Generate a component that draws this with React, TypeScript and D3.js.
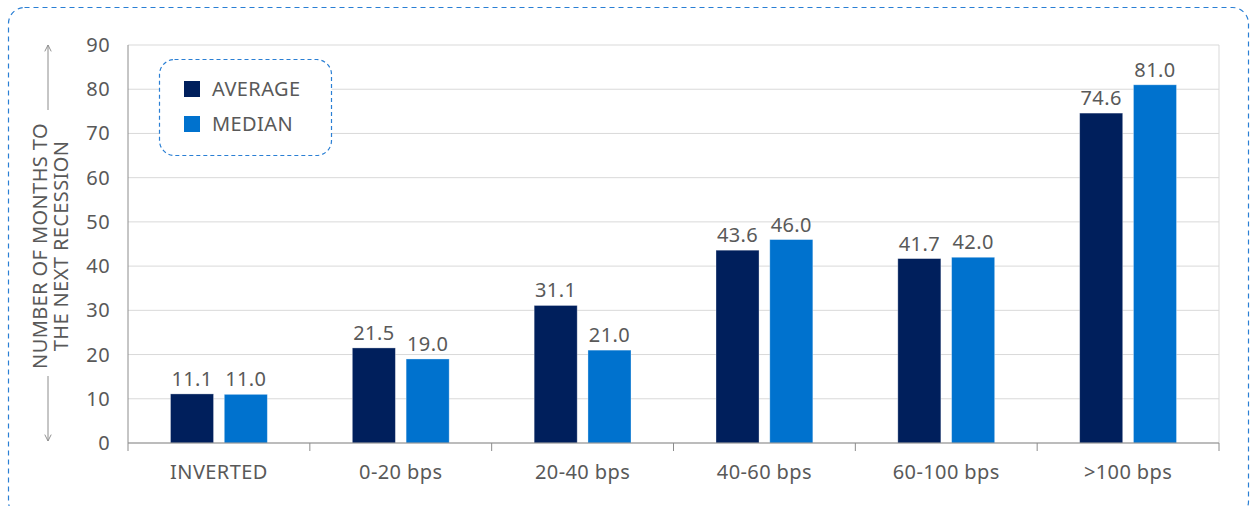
import { scaleBand, scaleLinear } from "d3";

const categories = ["INVERTED", "0-20 bps", "20-40 bps", "40-60 bps", "60-100 bps", ">100 bps"];
const seriesNames = ["AVERAGE", "MEDIAN"];
const averageValues = [11.1, 21.5, 31.1, 43.6, 41.7, 74.6];
const medianValues = [11.0, 19.0, 21.0, 46.0, 42.0, 81.0];
const yTicks = [0, 10, 20, 30, 40, 50, 60, 70, 80, 90];
const yTitle = ["NUMBER OF MONTHS TO", "THE NEXT RECESSION"];

const colors: Record<string, string> = { AVERAGE: "#001f5c", MEDIAN: "#0072ce" };
const textColor = "#595959";
const font = "'Noto Sans', sans-serif";

export default function App() {
  const W = 1250,
    H = 506;
  const left = 128,
    right = 1219,
    top = 45,
    bottom = 443;

  const x0 = scaleBand<string>().domain(categories).range([left, right]).padding(0);
  const x1 = scaleBand<string>()
    .domain(seriesNames)
    .range([0, x0.bandwidth()])
    .paddingInner(0.2)
    .paddingOuter(0.79);
  const y = scaleLinear().domain([0, 90]).range([bottom, top]);

  const series = [
    { name: "AVERAGE", values: averageValues },
    { name: "MEDIAN", values: medianValues },
  ];

  const titleCy = 246;

  return (
    <svg
      width={W}
      height={H}
      viewBox={`0 0 ${W} ${H}`}
      style={{ position: "absolute", left: 0, top: 0, display: "block", background: "#fff" }}
      fontFamily={font}
      letterSpacing={0.4}
    >
      <defs>
        <marker id="arr" viewBox="0 0 10 10" refX="9" refY="5" markerWidth="8" markerHeight="8" orient="auto">
          <path d="M1,1 L9,5 L1,9" fill="none" stroke="#8c8c8c" strokeWidth="1.2" />
        </marker>
      </defs>

      {/* outer dashed frame */}
      <rect
        x={8.5}
        y={7.5}
        width={1240}
        height={510}
        rx={16}
        fill="none"
        stroke="#2a7fd4"
        strokeWidth={1.2}
        strokeDasharray="5 4"
      />

      {/* gridlines */}
      {yTicks.map((t) => (
        <line key={"g" + t} x1={left} x2={right} y1={y(t)} y2={y(t)} stroke="#d9d9d9" strokeWidth={1} />
      ))}
      <line x1={right} x2={right} y1={top} y2={bottom} stroke="#d9d9d9" />

      {/* y tick labels */}
      {yTicks.map((t) => (
        <text
          key={"t" + t}
          x={110}
          y={y(t)}
          dy="0.35em"
          textAnchor="end"
          fontSize={20}
          fill={textColor}
        >
          {t}
        </text>
      ))}

      {/* bars */}
      {series.map((s) =>
        s.values.map((v, i) => {
          const bx = (x0(categories[i]) ?? 0) + (x1(s.name) ?? 0);
          return (
            <g key={s.name + i}>
              <rect
                x={bx}
                y={y(v)}
                width={x1.bandwidth()}
                height={y(0) - y(v)}
                fill={colors[s.name]}
                stroke="#ffffff"
                strokeOpacity={0.4}
                strokeWidth={0.8}
              />
              <text
                x={bx + x1.bandwidth() / 2}
                y={y(v) - 8}
                textAnchor="middle"
                fontSize={20}
                fill={textColor}
              >
                {v.toFixed(1)}
              </text>
            </g>
          );
        })
      )}

      {/* axes */}
      <line x1={left} x2={left} y1={top} y2={bottom} stroke="#8c8c8c" />
      <line x1={left} x2={right} y1={bottom} y2={bottom} stroke="#8c8c8c" />
      {categories.concat(["__end"]).map((c, i) => {
        const tx = i < categories.length ? x0(c) ?? 0 : right;
        return <line key={"xt" + i} x1={tx} x2={tx} y1={bottom} y2={bottom + 8} stroke="#8c8c8c" />;
      })}
      {categories.map((c) => (
        <text
          key={"xl" + c}
          x={(x0(c) ?? 0) + x0.bandwidth() / 2}
          y={472}
          dy="0.35em"
          textAnchor="middle"
          fontSize={20}
          fill={textColor}
        >
          {c}
        </text>
      ))}

      {/* y title with arrows */}
      <text
        transform={`translate(40, ${titleCy}) rotate(-90)`}
        textAnchor="middle"
        fontSize={20}
        fill={textColor}
      >
        <tspan x={0} dy="0.35em">
          {yTitle[0]}
        </tspan>
        <tspan x={0} dy={21}>
          {yTitle[1]}
        </tspan>
      </text>
      <line x1={48} x2={48} y1={110} y2={45} stroke="#8c8c8c" markerEnd="url(#arr)" />
      <line x1={48} x2={48} y1={376} y2={441} stroke="#8c8c8c" markerEnd="url(#arr)" />

      {/* legend */}
      <rect
        x={159.5}
        y={59.5}
        width={172}
        height={96}
        rx={15}
        fill="#fff"
        stroke="#2a7fd4"
        strokeWidth={1.2}
        strokeDasharray="4 3"
      />
      {seriesNames.map((n, i) => (
        <g key={"lg" + n} transform={`translate(184, ${81 + i * 35})`}>
          <rect width={16} height={16} fill={colors[n]} />
          <text x={28} y={8} dy="0.35em" fontSize={20} fill={textColor}>
            {n}
          </text>
        </g>
      ))}
    </svg>
  );
}
